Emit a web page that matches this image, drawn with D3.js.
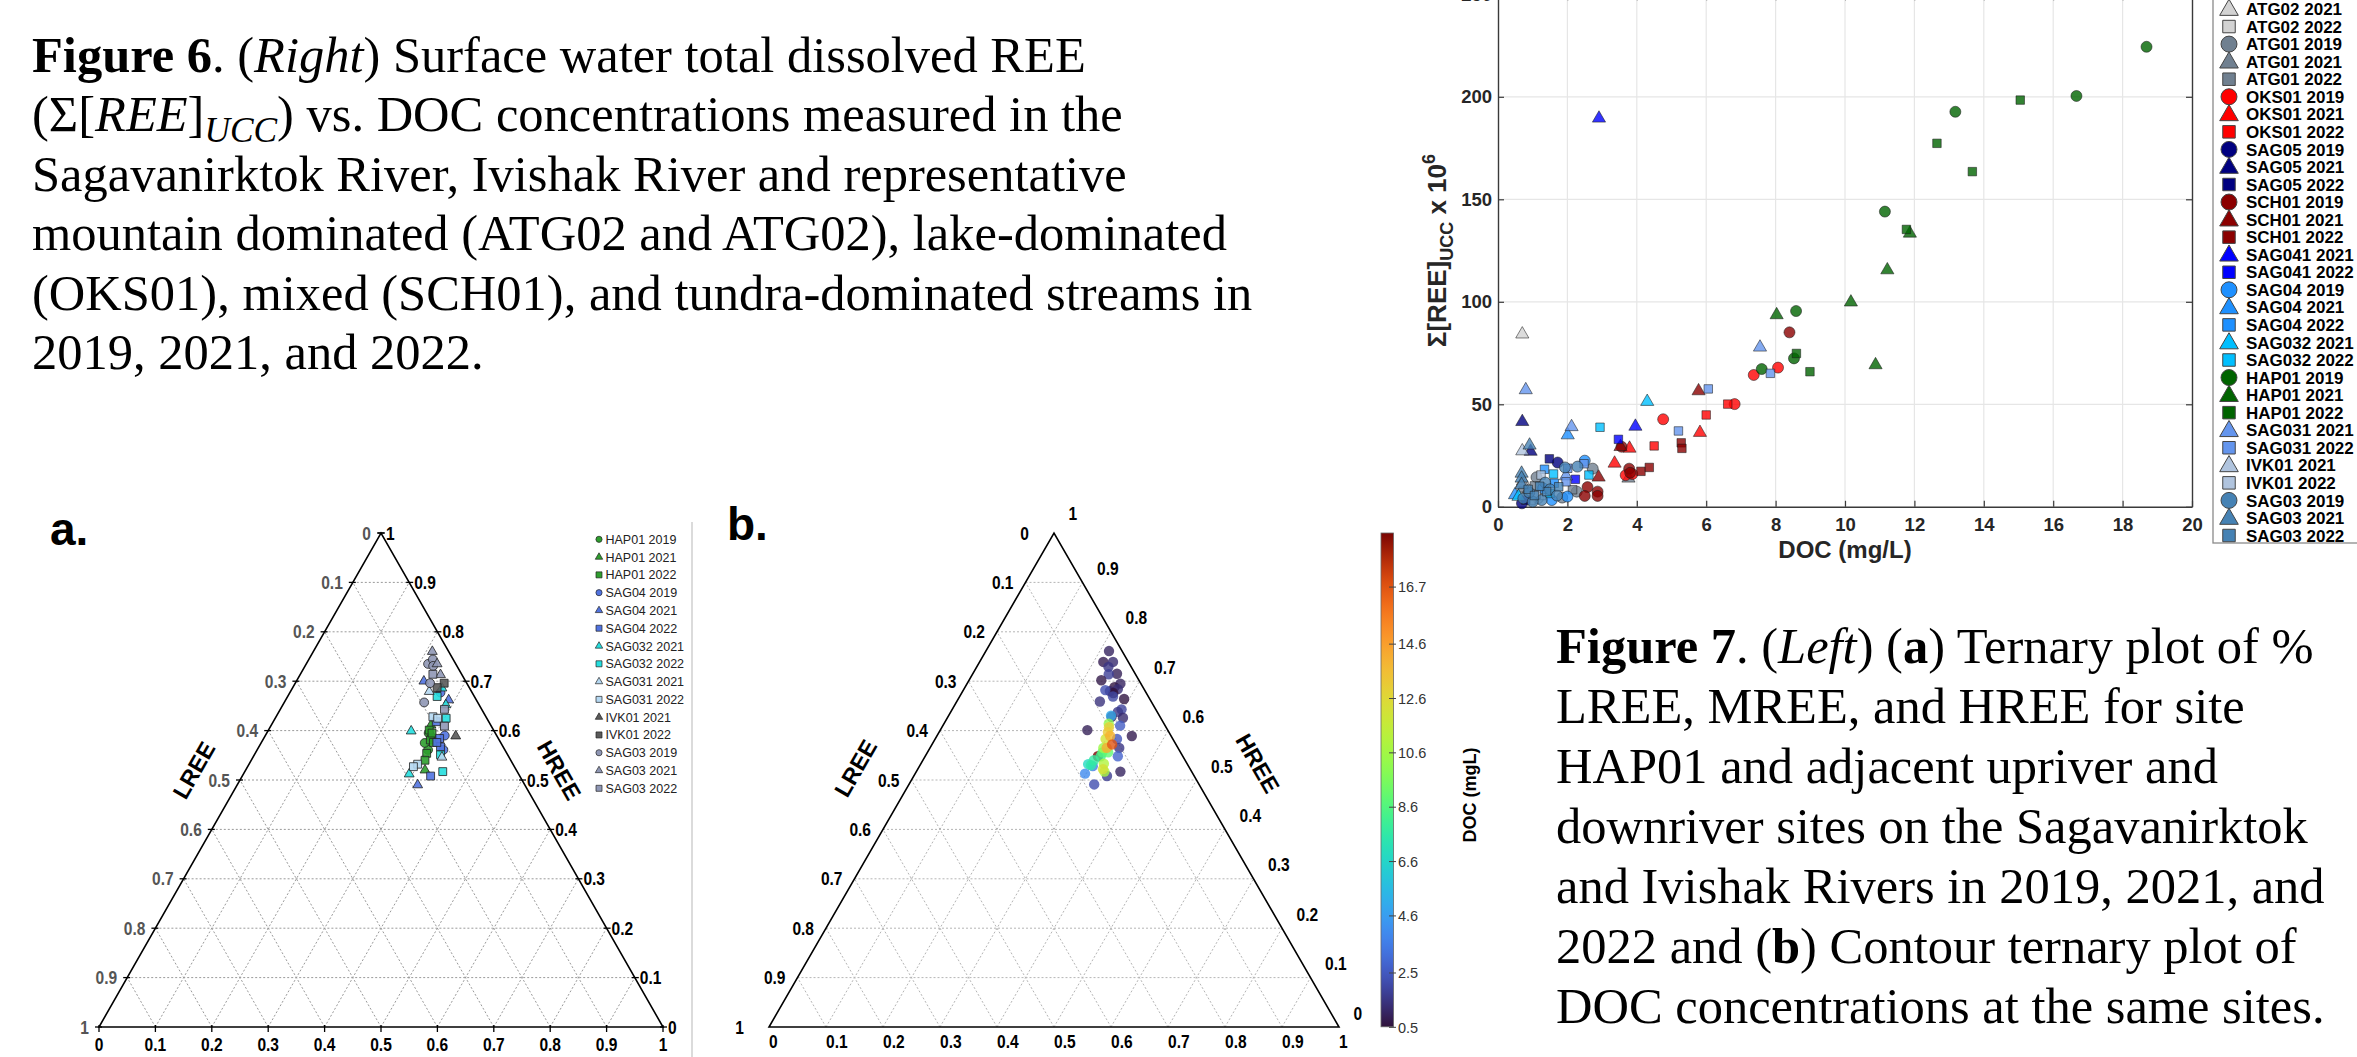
<!DOCTYPE html>
<html><head><meta charset="utf-8">
<script src="https://cdn.jsdelivr.net/npm/d3@7/dist/d3.min.js"></script>
<style>html,body{margin:0;padding:0;background:#fff;}svg{display:block;} text{white-space:pre;}</style>
</head><body>
<svg id="fig" width="2357" height="1057" xmlns="http://www.w3.org/2000/svg"></svg>
<script>
// ================= DATA =================
// Figure 6 axes
const xTicks = [0,2,4,6,8,10,12,14,16,18,20];
const yTicks = [0,50,100,150,200,250];
// Ternary ticks
const ternTicks = [0,0.1,0.2,0.3,0.4,0.5,0.6,0.7,0.8,0.9,1];
// Colorbar (DOC mg/L)
const cbTickValues = [0.5,2.5,4.6,6.6,8.6,10.6,12.6,14.6,16.7];
const docRange = [0.52,18.69];
const turboStops = ["#30123b","#4454c4","#4490fe","#1fc8de","#29efa2","#7eff55","#c1f334","#f1ca3a","#fe922a","#ea4f0d","#7a0403"];

// Figure 6 series (legend order)
const seriesNames = ["ATG02 2019","ATG02 2021","ATG02 2022","ATG01 2019","ATG01 2021","ATG01 2022",
 "OKS01 2019","OKS01 2021","OKS01 2022","SAG05 2019","SAG05 2021","SAG05 2022",
 "SCH01 2019","SCH01 2021","SCH01 2022","SAG041 2021","SAG041 2022",
 "SAG04 2019","SAG04 2021","SAG04 2022","SAG032 2021","SAG032 2022",
 "HAP01 2019","HAP01 2021","HAP01 2022","SAG031 2021","SAG031 2022",
 "IVK01 2021","IVK01 2022","SAG03 2019","SAG03 2021","SAG03 2022"];
const seriesShapes = ["c","t","s","c","t","s","c","t","s","c","t","s","c","t","s","t","s",
 "c","t","s","t","s","c","t","s","t","s","t","s","c","t","s"];
const seriesColors = ["#d3d3d3","#d3d3d3","#d3d3d3","#708090","#708090","#708090",
 "#ff0000","#ff0000","#ff0000","#000080","#000080","#000080",
 "#8b0000","#8b0000","#8b0000","#0000ff","#0000ff",
 "#1e90ff","#1e90ff","#1e90ff","#00bfff","#00bfff",
 "#006400","#006400","#006400","#6495ed","#6495ed",
 "#b0c4de","#b0c4de","#4682b4","#4682b4","#4682b4"];

// [DOC (mg/L), Σ[REE]UCC x10^6]
const ATG02_2019 = [[1.15,4.2],[0.85,6.2]];
const ATG02_2021 = [[0.70,84.2],[0.72,12.5]];
const ATG02_2022 = [[1.25,5.5],[0.95,3.0]];
const ATG01_2019 = [[2.73,18.6],[1.11,14.4],[2.27,7.4],[1.85,4.5]];
const ATG01_2021 = [[3.76,13.9],[0.72,9.0]];
const ATG01_2022 = [[1.05,10.2],[2.15,8.3]];
const OKS01_2019 = [[4.76,42.7],[6.82,50.1],[7.37,64.3],[8.07,67.9],[3.68,15.4],[3.87,16.0]];
const OKS01_2021 = [[3.36,21.2],[3.79,28.5],[5.82,36.2]];
const OKS01_2022 = [[4.50,29.7],[6.00,44.8],[6.62,50.1]];
const SAG05_2019 = [[1.72,21.6],[0.69,1.7]];
const SAG05_2021 = [[0.70,41.5],[0.94,27.0]];
const SAG05_2022 = [[1.48,23.4],[0.80,3.3]];
const SCH01_2019 = [[3.56,29.3],[8.40,85.1],[3.78,18.6],[3.81,16.6],[2.58,9.6],[2.50,5.3],[2.87,7.4],[2.87,5.3]];
const SCH01_2021 = [[5.78,56.5],[2.90,14.4],[3.53,29.3]];
const SCH01_2022 = [[5.28,31.2],[5.30,28.5],[4.12,17.3],[4.36,19.2]];
const SAG041_2021 = [[2.91,189.5],[3.96,39.2]];
const SAG041_2022 = [[3.47,32.9],[2.23,13.4]];
const SAG04_2019 = [[2.50,22.5],[1.55,3.3],[2.00,5.0],[1.30,9.0]];
const SAG04_2021 = [[2.01,35.0],[0.49,5.8]];
const SAG04_2022 = [[1.34,18.3],[1.62,11.5]];
const SAG032_2021 = [[4.30,51.3],[0.59,5.0]];
const SAG032_2022 = [[2.94,38.8],[1.60,16.0],[2.62,15.5],[1.50,6.5]];
const HAP01_2019 = [[7.60,67.2],[8.59,95.5],[8.53,72.4],[11.15,144.0],[13.18,192.7],[16.67,200.4],[18.69,224.4]];
const HAP01_2021 = [[8.03,93.6],[10.17,99.8],[10.88,69.2],[11.22,115.5],[11.87,133.4]];
const HAP01_2022 = [[8.60,74.8],[8.99,65.9],[11.77,135.3],[12.65,177.3],[13.67,163.5],[15.05,198.4]];
const SAG031_2021 = [[0.80,57.0],[2.12,39.0],[7.55,77.8],[1.96,15.0]];
const SAG031_2022 = [[5.20,37.0],[6.06,57.5],[7.85,65.1],[2.01,18.8],[2.48,21.0],[1.96,12.2]];
const IVK01_2021 = [[0.70,27.2],[0.70,11.5]];
const IVK01_2022 = [[1.24,15.5],[1.10,6.0]];
const SAG03_2019 = [[2.29,19.6],[1.93,19.2],[1.36,11.8],[0.73,4.1],[1.26,3.3],[1.00,2.5],[1.50,8.5],[0.90,7.0],[1.70,5.5]];
const SAG03_2021 = [[0.91,30.0],[0.68,16.3],[0.68,13.9],[0.68,10.7]];
const SAG03_2022 = [[0.87,8.5],[1.40,7.4],[1.20,10.0],[1.05,5.5],[1.75,9.8]];
const seriesPoints = [ATG02_2019,ATG02_2021,ATG02_2022,ATG01_2019,ATG01_2021,ATG01_2022,
 OKS01_2019,OKS01_2021,OKS01_2022,SAG05_2019,SAG05_2021,SAG05_2022,
 SCH01_2019,SCH01_2021,SCH01_2022,SAG041_2021,SAG041_2022,
 SAG04_2019,SAG04_2021,SAG04_2022,SAG032_2021,SAG032_2022,
 HAP01_2019,HAP01_2021,HAP01_2022,SAG031_2021,SAG031_2022,
 IVK01_2021,IVK01_2022,SAG03_2019,SAG03_2021,SAG03_2022];

// Figure 7a series: [MREE fraction, HREE fraction]  (LREE = 1 - MREE - HREE)
const ternNames = ["HAP01 2019","HAP01 2021","HAP01 2022","SAG04 2019","SAG04 2021","SAG04 2022",
 "SAG032 2021","SAG032 2022","SAG031 2021","SAG031 2022","IVK01 2021","IVK01 2022",
 "SAG03 2019","SAG03 2021","SAG03 2022"];
const ternShapes = ["c","t","s","c","t","s","t","s","t","s","t","s","c","t","s"];
const ternColors = ["#2e9e2e","#2e9e2e","#2e9e2e","#5173e0","#5173e0","#5173e0",
 "#25dede","#25dede","#b5d8f2","#b5d8f2","#5a5a5a","#5a5a5a","#8f97b5","#8f97b5","#8f97b5"];
const tHAP01_2019 = [[0.287,0.595],[0.297,0.586],[0.303,0.561],[0.290,0.575]];
const tHAP01_2021 = [[0.283,0.611],[0.318,0.520],[0.295,0.590]];
const tHAP01_2022 = [[0.285,0.601],[0.297,0.581],[0.305,0.576],[0.293,0.595],[0.304,0.554],[0.308,0.540]];
const tSAG04_2019 = [[0.267,0.677],[0.330,0.561],[0.318,0.590]];
const tSAG04_2021 = [[0.226,0.700],[0.289,0.662],[0.320,0.490]];
const tSAG04_2022 = [[0.289,0.618],[0.312,0.584],[0.322,0.567],[0.311,0.576],[0.334,0.508]];
const tSAG032_2021 = [[0.265,0.686],[0.289,0.652],[0.294,0.512],[0.254,0.599]];
const tSAG032_2022 = [[0.265,0.669],[0.303,0.625],[0.330,0.551],[0.351,0.517]];
const tSAG031_2021 = [[0.246,0.679],[0.335,0.546]];
const tSAG031_2022 = [[0.278,0.628],[0.288,0.625],[0.299,0.532],[0.294,0.527]];
const tIVK01_2021 = [[0.338,0.589]];
const tIVK01_2022 = [[0.264,0.696],[0.256,0.687]];
const tSAG03_2019 = [[0.216,0.735],[0.220,0.744],[0.227,0.731],[0.239,0.696],[0.248,0.657]];
const tSAG03_2021 = [[0.211,0.760],[0.232,0.735],[0.249,0.713]];
const tSAG03_2022 = [[0.235,0.714],[0.291,0.643],[0.308,0.609]];
const ternPoints = [tHAP01_2019,tHAP01_2021,tHAP01_2022,tSAG04_2019,tSAG04_2021,tSAG04_2022,
 tSAG032_2021,tSAG032_2022,tSAG031_2021,tSAG031_2022,tIVK01_2021,tIVK01_2022,
 tSAG03_2019,tSAG03_2021,tSAG03_2022];

// Figure 7b: [MREE, HREE, DOC mg/L]
const docPoints = [
 [0.303,0.548,18.7],
 [0.216,0.761,1.0],[0.217,0.739,0.8],[0.234,0.739,1.2],[0.231,0.729,1.5],[0.253,0.715,0.9],
 [0.239,0.714,1.8],[0.232,0.702,0.7],[0.269,0.695,1.0],[0.262,0.688,0.6],[0.270,0.684,1.3],
 [0.258,0.680,1.1],[0.266,0.676,0.5],[0.249,0.682,2.2],[0.269,0.669,2.0],[0.291,0.664,0.6],
 [0.251,0.659,1.4],[0.297,0.643,1.9],[0.293,0.638,1.6],[0.308,0.626,1.2],[0.287,0.628,0.9],
 [0.311,0.610,2.6],[0.258,0.601,0.9],[0.342,0.589,0.8],[0.319,0.583,2.4],[0.332,0.565,1.5],
 [0.338,0.548,2.8],[0.358,0.517,1.0],[0.339,0.508,1.7],[0.325,0.491,2.2],
 [0.285,0.630,5.0],[0.298,0.513,4.0],[0.304,0.528,3.5],[0.294,0.532,6.8],[0.300,0.530,7.5],
 [0.300,0.540,7.7],[0.308,0.548,8.0],[0.307,0.556,8.6],[0.317,0.556,9.0],[0.289,0.614,10.2],
 [0.304,0.565,10.5],[0.330,0.517,10.8],[0.321,0.533,11.0],[0.299,0.583,12.0],[0.325,0.522,12.2],
 [0.293,0.607,13.0],[0.296,0.597,13.2],[0.304,0.589,14.0],[0.310,0.565,14.2],[0.316,0.572,16.7]
];

// ================= DRAWING =================
const svg = d3.select("#fig");
const serif = "'Liberation Serif','Times New Roman',serif";
const sans = "'Liberation Sans',Arial,Helvetica,sans-serif";
svg.append("rect").attr("width",2357).attr("height",1057).attr("fill","#fff");

function sym(shape, size){
  const t = shape==="c"?d3.symbolCircle:shape==="t"?d3.symbolTriangle:d3.symbolSquare;
  return d3.symbol().type(t).size(size)();
}
function condense(sel, f){
  sel.each(function(){
    const L = this.getComputedTextLength();
    if (L>0) d3.select(this).attr("textLength",L*f).attr("lengthAdjust","spacingAndGlyphs");
  });
}

// ---------- captions ----------
function caption(lines, x, y0, lh, fs){
  lines.forEach((segs,i)=>{
    const t = svg.append("text").attr("x",x).attr("y",y0+i*lh)
      .attr("font-family",serif).attr("font-size",fs).attr("fill","#000");
    let shift = 0;
    segs.forEach(([s,st])=>{
      const ts = t.append("tspan").text(s);
      if (st.includes("B")) ts.attr("font-weight","bold");
      if (st.includes("I")) ts.attr("font-style","italic");
      const target = st.includes("S") ? fs*0.2 : 0;
      if (target!==shift){ ts.attr("dy", target-shift); shift = target; }
      if (st.includes("S")) ts.attr("font-size", fs*0.7);
    });
  });
}
caption([
 [["Figure 6","B"],[". (",""],["Right","I"],[") Surface water total dissolved REE",""]],
 [["(Σ[",""],["REE","I"],["]",""],["UCC","IS"],[") vs. DOC concentrations measured in the",""]],
 [["Sagavanirktok River, Ivishak River and representative",""]],
 [["mountain dominated (ATG02 and ATG02), lake-dominated",""]],
 [["(OKS01), mixed (SCH01), and tundra-dominated streams in",""]],
 [["2019, 2021, and 2022.",""]]
], 32, 72, 59.4, 50.5);

caption([
 [["Figure 7","B"],[". (",""],["Left","I"],[") (",""],["a","B"],[") Ternary plot of %",""]],
 [["LREE, MREE, and HREE for site",""]],
 [["HAP01 and adjacent upriver and",""]],
 [["downriver sites on the Sagavanirktok",""]],
 [["and Ivishak Rivers in 2019, 2021, and",""]],
 [["2022 and (",""],["b","B"],[") Contour ternary plot of",""]],
 [["DOC concentrations at the same sites.",""]]
], 1556, 663, 60, 50.5);

// ---------- Figure 6 scatter ----------
const xS = d3.scaleLinear().domain([0,20]).range([1498,2192]);
const yS = d3.scaleLinear().domain([0,250]).range([506.8,-5.7]);
const sc = svg.append("g");
sc.selectAll("line.gx").data(xTicks.slice(1,-1)).join("line")
  .attr("x1",d=>xS(d)).attr("x2",d=>xS(d)).attr("y1",yS(0)).attr("y2",yS(250))
  .attr("stroke","#e6e6e6").attr("stroke-width",1.2);
sc.selectAll("line.gy").data(yTicks.slice(1,-1)).join("line")
  .attr("y1",d=>yS(d)).attr("y2",d=>yS(d)).attr("x1",xS(0)).attr("x2",xS(20))
  .attr("stroke","#e6e6e6").attr("stroke-width",1.2);

function styleAxis(g){
  g.selectAll("path.domain").attr("stroke","#3a3a3a").attr("stroke-width",1.4);
  g.selectAll(".tick line").attr("stroke","#3a3a3a").attr("stroke-width",1.2);
  g.selectAll(".tick text").attr("font-family",sans).attr("font-weight","bold")
    .attr("font-size",18.5).attr("fill","#262626");
}
sc.append("g").attr("transform",`translate(0,${yS(0)})`)
  .call(d3.axisBottom(xS).tickValues(xTicks).tickSizeInner(-6).tickSizeOuter(0).tickPadding(11))
  .call(styleAxis);
sc.append("g").attr("transform",`translate(0,${yS(250)})`)
  .call(d3.axisTop(xS).tickValues(xTicks).tickSizeInner(-6).tickSizeOuter(0).tickFormat(""))
  .call(styleAxis);
sc.append("g").attr("transform",`translate(${xS(0)},0)`)
  .call(d3.axisLeft(yS).tickValues(yTicks).tickSizeInner(-6).tickSizeOuter(0).tickPadding(6))
  .call(styleAxis);
sc.append("g").attr("transform",`translate(${xS(20)},0)`)
  .call(d3.axisRight(yS).tickValues(yTicks).tickSizeInner(-6).tickSizeOuter(0).tickFormat(""))
  .call(styleAxis);

// points
seriesPoints.forEach((pts,i)=>{
  const size = seriesShapes[i]==="c"?95:seriesShapes[i]==="t"?75:72;
  sc.append("g").selectAll("path").data(pts).join("path")
    .attr("transform",d=>`translate(${xS(d[0])},${yS(d[1])})`)
    .attr("d",sym(seriesShapes[i],size))
    .attr("fill",seriesColors[i]).attr("fill-opacity",0.8)
    .attr("stroke","#1a1a1a").attr("stroke-opacity",0.6).attr("stroke-width",0.9);
});

// axis labels
svg.append("text").attr("x",(xS(0)+xS(20))/2).attr("y",558).attr("text-anchor","middle")
  .attr("font-family",sans).attr("font-weight","bold").attr("font-size",24).attr("fill","#262626")
  .text("DOC (mg/L)");
const yl = svg.append("text").attr("transform",`translate(1446,${(yS(0)+yS(250))/2}) rotate(-90)`)
  .attr("text-anchor","middle").attr("font-family",sans).attr("font-weight","bold")
  .attr("font-size",26).attr("fill","#262626");
yl.append("tspan").text("Σ[REE]");
yl.append("tspan").text("UCC").attr("font-size",18).attr("dy",7);
yl.append("tspan").text(" x 10").attr("dy",-7);
yl.append("tspan").text("6").attr("font-size",18).attr("dy",-11);

// legend
const lg = svg.append("g");
lg.append("rect").attr("x",2213).attr("y",-20).attr("width",220).attr("height",563)
  .attr("fill","#fff").attr("stroke","#8a8a8a").attr("stroke-width",1.3);
const legY = d3.scaleLinear().domain([1,31]).range([9,535.5]);
seriesNames.forEach((n,i)=>{
  const y = legY(i);
  const size = seriesShapes[i]==="c"?200:seriesShapes[i]==="t"?150:156;
  const dy = seriesShapes[i]==="t"?1:0;
  lg.append("path").attr("transform",`translate(2229,${y+dy})`).attr("d",sym(seriesShapes[i],size))
    .attr("fill",seriesColors[i]).attr("stroke","#444").attr("stroke-width",1);
  lg.append("text").attr("x",2246).attr("y",y).attr("dy","0.36em")
    .attr("font-family",sans).attr("font-weight","bold").attr("font-size",17).attr("fill","#000").text(n);
});

// ---------- ternary panels ----------
function ternaryPanel(o){
  const g = svg.append("g");
  const xs = d3.scaleLinear().domain([0,1]).range([o.left,o.right]);
  const ys = d3.scaleLinear().domain([0,1]).range([o.base,o.apex]);
  const P = (m,h)=>[xs(m+h/2), ys(h)];
  const inner = ternTicks.filter(v=>v>0&&v<1);
  const segs = [];
  inner.forEach(v=>{
    segs.push([P(0,v),P(1-v,v)]);
    segs.push([P(v,0),P(v,1-v)]);
    segs.push([P(1-v,0),P(0,1-v)]);
  });
  g.selectAll("line.grid").data(segs).join("line")
    .attr("x1",d=>d[0][0]).attr("y1",d=>d[0][1]).attr("x2",d=>d[1][0]).attr("y2",d=>d[1][1])
    .attr("stroke",o.gridColor).attr("stroke-width",1).attr("stroke-dasharray","2,2");
  g.append("path").attr("d",d3.line()([P(0,0),P(1,0),P(0,1)])+"Z")
    .attr("fill","none").attr("stroke","#000").attr("stroke-width",1.6);
  const lab = (x,y,txt,anchor,color)=> g.append("text").attr("x",x).attr("y",y).attr("dy","0.36em")
    .attr("text-anchor",anchor).attr("font-family",sans).attr("font-weight","bold")
    .attr("font-size",18.5).attr("fill",color).text(txt).call(condense,0.84);
  ternTicks.forEach(v=>{
    const t = String(v);
    const end = (v===0||v===1);
    // left side : LREE
    let [x,y] = P(0,1-v);
    if (o.ticks) g.append("line").attr("x1",x-4).attr("x2",x+3).attr("y1",y).attr("y2",y).attr("stroke","#000").attr("stroke-width",1.3);
    lab(x - (end?o.leftEnd:o.leftOff), y, t, "end", o.leftColor);
    // right side : HREE
    [x,y] = P(1-v,v);
    if (o.ticks) g.append("line").attr("x1",x-3).attr("x2",x+4).attr("y1",y).attr("y2",y).attr("stroke","#000").attr("stroke-width",1.3);
    lab(x + o.rightOff, y + (v===1?o.apexDy:o.rightDy), t, "start", "#000");
    // bottom : MREE
    [x,y] = P(v,0);
    if (o.ticks) g.append("line").attr("x1",x).attr("x2",x).attr("y1",y-2).attr("y2",y+5).attr("stroke","#000").attr("stroke-width",1.3);
    g.append("text").attr("x",x).attr("y",o.bottomY).attr("text-anchor",o.bottomAnchor)
      .attr("font-family",sans).attr("font-weight","bold").attr("font-size",18.5).attr("fill","#000").text(t)
      .call(condense,0.84);
  });
  const ang = Math.atan2(o.base-o.apex, (o.right-o.left)/2)*180/Math.PI;
  const [lx,ly] = P(0,o.titleH);
  g.append("text").attr("transform",`translate(${lx+o.lreeOff},${ly}) rotate(${-ang})`)
    .attr("text-anchor","middle").attr("dy","0.36em").attr("font-family",sans).attr("font-weight","bold")
    .attr("font-size",23).attr("fill","#000").text("LREE");
  const [rx,ry] = P(1-o.titleH2,o.titleH2);
  g.append("text").attr("transform",`translate(${rx+o.hreeOff},${ry}) rotate(${ang})`)
    .attr("text-anchor","middle").attr("dy","0.36em").attr("font-family",sans).attr("font-weight","bold")
    .attr("font-size",23).attr("fill","#000").text("HREE");
  return {g,P};
}

// panel a
const A = ternaryPanel({left:99,right:663,base:1027,apex:533,gridColor:"#9a9a9a",ticks:true,
  leftOff:10,leftEnd:10,leftColor:"#555",rightOff:5,rightDy:0,apexDy:0,bottomY:1051,bottomAnchor:"middle",
  titleH:0.52,titleH2:0.52,lreeOff:-52,hreeOff:43});
ternPoints.forEach((pts,i)=>{
  const size = ternShapes[i]==="c"?62:ternShapes[i]==="t"?42:62;
  A.g.append("g").selectAll("path").data(pts).join("path")
    .attr("transform",d=>{const p=A.P(d[0],d[1]);return `translate(${p[0]},${p[1]})`;})
    .attr("d",sym(ternShapes[i],size)).attr("fill",ternColors[i]).attr("fill-opacity",0.9)
    .attr("stroke","#222").attr("stroke-width",0.8);
});
const legA = d3.scaleLinear().domain([0,14]).range([539.3,788.3]);
ternNames.forEach((n,i)=>{
  const y = legA(i);
  const size = ternShapes[i]==="c"?30:ternShapes[i]==="t"?24:36;
  svg.append("path").attr("transform",`translate(599,${y})`).attr("d",sym(ternShapes[i],size))
    .attr("fill",ternColors[i]).attr("stroke","#222").attr("stroke-width",0.7);
  svg.append("text").attr("x",605.5).attr("y",y).attr("dy","0.36em").attr("font-family",sans)
    .attr("font-size",12.5).attr("fill","#222").text(n);
});
svg.append("text").attr("x",50).attr("y",545).attr("font-family",sans).attr("font-weight","bold")
  .attr("font-size",46).attr("fill","#000").text("a.");

// separator
svg.append("line").attr("x1",692).attr("x2",692).attr("y1",522).attr("y2",1057)
  .attr("stroke","#cfcfcf").attr("stroke-width",1.5);

// panel b
const B = ternaryPanel({left:769,right:1339,base:1027,apex:533,gridColor:"#b5b5b5",ticks:false,
  leftOff:12,leftEnd:25,leftColor:"#000",rightOff:14.5,rightDy:-14,apexDy:-20,bottomY:1048,bottomAnchor:"start",
  titleH:0.524,titleH2:0.534,lreeOff:-63,hreeOff:71});
const cScale = d3.scaleSequential(d3.interpolateRgbBasis(turboStops)).domain(docRange);
B.g.append("g").selectAll("circle").data(docPoints).join("circle")
  .attr("cx",d=>B.P(d[0],d[1])[0]).attr("cy",d=>B.P(d[0],d[1])[1]).attr("r",5.2)
  .attr("fill",d=>cScale(d[2])).attr("fill-opacity",0.8);
svg.append("text").attr("x",727).attr("y",540).attr("font-family",sans).attr("font-weight","bold")
  .attr("font-size",46).attr("fill","#000").text("b.");

// colorbar
const cbY = d3.scaleLinear().domain(docRange).range([1026.8,533]);
const defs = svg.append("defs");
const grad = defs.append("linearGradient").attr("id","turbo").attr("x1",0).attr("y1",1).attr("x2",0).attr("y2",0);
d3.range(0,1.0001,0.02).forEach(t=>grad.append("stop").attr("offset",t).attr("stop-color",d3.interpolateRgbBasis(turboStops)(t)));
svg.append("rect").attr("x",1381).attr("y",cbY(docRange[1])).attr("width",12.5)
  .attr("height",cbY(docRange[0])-cbY(docRange[1])).attr("fill","url(#turbo)")
  .attr("stroke","#666").attr("stroke-width",0.8);
cbTickValues.forEach(v=>{
  svg.append("line").attr("x1",1389).attr("x2",1396).attr("y1",cbY(v)).attr("y2",cbY(v))
    .attr("stroke","#444").attr("stroke-width",1);
  svg.append("text").attr("x",1398).attr("y",cbY(v)).attr("dy","0.36em").attr("font-family",sans)
    .attr("font-size",14.5).attr("fill","#333").text(String(v));
});
svg.append("text").attr("transform","translate(1475.5,795) rotate(-90)").attr("text-anchor","middle")
  .attr("font-family",sans).attr("font-weight","bold").attr("font-size",18).attr("fill","#000").text("DOC (mgL)");
</script>
</body></html>
